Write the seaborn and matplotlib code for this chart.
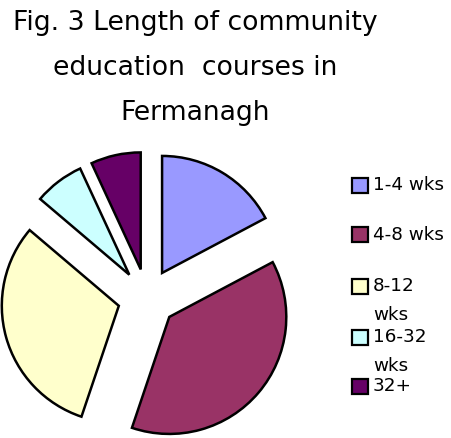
import seaborn as sns
import matplotlib.pyplot as plt
from matplotlib.patches import Rectangle

# Data
categories = ['1-4 wks', '4-8 wks', '8-12 wks', '16-32 wks', '32+']
legend_lines = [['1-4 wks'], ['4-8 wks'], ['8-12', 'wks'], ['16-32', 'wks'], ['32+']]
counts = [5, 11, 9, 2, 2]
colors = ['#9999FF', '#993366', '#FFFFCC', '#CCFFFF', '#660066']

sns.set_theme(style='white')
plt.rcParams['font.family'] = ['DejaVu Sans']

W, H = 451, 438
fig = plt.figure(figsize=(W / 100, H / 100), dpi=100)

# pie axes: centre at (147, 298) px, radius 117 px
cx, cy, r = 147, 298, 117
left, right, top, bottom = 0, 300, 150, 438
ax = fig.add_axes([left / W, 1 - bottom / H, (right - left) / W, (bottom - top) / H])
ax.pie(counts, colors=colors, startangle=90, counterclock=False,
       explode=[0.25] * len(counts), radius=1,
       wedgeprops=dict(edgecolor='black', linewidth=1.8))
ax.set_xlim((left - cx) / r, (right - cx) / r)
ax.set_ylim((cy - bottom) / r, (cy - top) / r)
ax.set_aspect('auto')
ax.axis('off')

# title
title_lines = ['Fig. 3 Length of community', 'education  courses in', 'Fermanagh']
for i, line in enumerate(title_lines):
    fig.text(195 / W, 1 - (23 + i * 45) / H, line, ha='center', va='center',
             fontsize=19.2, color='black')

# legend (wrapped labels overflow downwards, as in the original)
entry_y = [185, 235, 286, 337, 386]
for lines, col, y in zip(legend_lines, colors, entry_y):
    fig.patches.append(Rectangle((352 / W, 1 - (y + 7.5) / H), 16 / W, 15 / H,
                                 transform=fig.transFigure, facecolor=col,
                                 edgecolor='black', linewidth=1.6))
    for j, t in enumerate(lines):
        fig.text(373 / W, 1 - (y + j * 29) / H, t, ha='left', va='center',
                 fontsize=13.2, color='black')

fig.savefig('out.png', dpi=100)
